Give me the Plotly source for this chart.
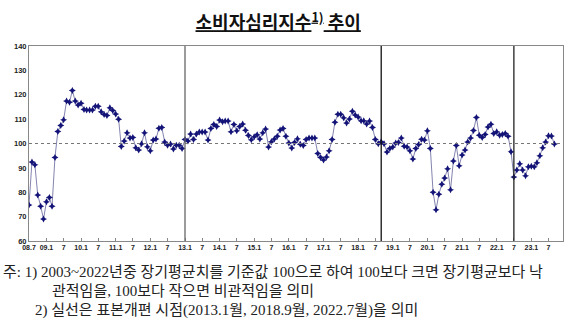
import pandas as pd
import plotly.graph_objects as go

# Consumer Sentiment Index, monthly from 2008.7
csi_2008_2013 = [74.8, 92.4, 91.3, 78.9, 74.3, 69.0, 76.1, 77.8, 74.3, 94.3, 104.9, 107.4, 109.7,
                 117.4, 116.9, 121.7, 117.4, 115.8, 116.5, 114.0, 113.7, 113.7, 113.7, 115.3, 115.3,
                 113.0, 111.9, 111.5, 114.7, 113.5, 112.1, 109.9, 98.8, 101.0, 104.4, 102.3, 102.5,
                 98.3, 97.3, 99.9, 104.4, 98.7, 97.0, 101.4, 101.8, 106.3, 106.6, 100.6, 99.3, 99.8,
                 97.7, 99.3, 99.3, 98.0, 101.6]
csi_2013_2018 = [101.0, 103.9, 101.6, 103.9, 104.7, 104.7, 104.7, 101.4, 106.2, 107.8, 107.0, 109.6,
                 108.9, 109.2, 109.2, 104.8, 107.8, 105.2, 107.0, 108.0, 105.4, 103.3, 101.5, 102.8,
                 103.6, 101.8, 104.4, 105.9, 98.6, 100.7, 101.8, 103.0, 105.5, 106.2, 103.0, 100.2,
                 98.2, 100.4, 101.9, 99.7, 99.2, 101.6, 102.3, 102.3, 102.3, 95.9, 94.3, 93.2, 94.5,
                 97.0, 101.6, 108.7, 112.0, 112.0, 110.6, 108.4, 110.1, 113.2, 111.7, 110.9, 109.3,
                 109.3, 108.0, 109.2, 106.6, 101.6, 99.9]
csi_2018_2023 = [100.7, 99.9, 96.5, 98.0, 98.6, 100.2, 100.4, 102.3, 98.9, 98.6, 97.0, 93.6, 98.0,
                 99.6, 101.7, 101.4, 105.2, 98.0, 80.0, 72.8, 79.2, 83.3, 85.8, 89.6, 81.0, 92.8,
                 99.2, 90.9, 95.3, 97.3, 100.6, 102.3, 105.3, 110.7, 103.4, 102.5, 103.7, 106.8,
                 107.9, 104.1, 104.8, 103.4, 103.7, 104.1, 103.0, 96.6, 86.3, 89.1, 91.7, 89.1, 86.8,
                 90.5, 90.7, 90.5, 92.1, 95.0, 98.3, 100.6, 103.2, 103.1, 99.8]
values = csi_2008_2013 + csi_2013_2018 + csi_2018_2023
months = pd.date_range("2008-07-01", periods=len(values), freq="MS")

tick_dates = pd.date_range("2008-07-01", "2023-07-01", freq="6MS")
tick_labels = ["08.7", "09.1", "7", "10.1", "7", "11.1", "7", "12.1", "7", "13.1", "7", "14.1", "7",
               "15.1", "7", "16.1", "7", "17.1", "7", "18.1", "7", "19.1", "7", "20.1", "7", "21.1",
               "7", "22.1", "7", "23.1", "7"]
y_ticks = [60, 70, 80, 90, 100, 110, 120, 130, 140]
sample_breaks = ["2013-01-01", "2018-09-01", "2022-07-01"]
break_colors = ["#666666", "#111111", "#222222"]
baseline = 100

fig = go.Figure()
fig.add_trace(go.Scatter(
    x=months, y=values, mode="lines+markers",
    line=dict(color="#8484b0", width=1),
    marker=dict(symbol="star-diamond", size=5, color="#141478"),
    showlegend=False, hoverinfo="x+y",
))

fig.add_hline(y=baseline, line=dict(color="#777777", width=1, dash="dot"))
for d, c in zip(sample_breaks, break_colors):
    fig.add_shape(type="line", xref="x", yref="paper", x0=d, x1=d, y0=0, y1=1,
                  line=dict(color=c, width=1.3))

fig.update_xaxes(
    range=["2008-07-01", "2023-12-01"],
    tickvals=tick_dates, ticktext=tick_labels,
    ticks="inside", ticklen=3, tickcolor="#888888",
    showline=True, linecolor="#888888", linewidth=1, mirror=True,
    showgrid=False, zeroline=False,
    tickfont=dict(family="Liberation Sans, Arial", size=7, color="#222222", weight="bold"),
)
fig.update_yaxes(
    range=[60, 140], tickvals=y_ticks,
    showline=True, linecolor="#888888", linewidth=1, mirror=True,
    showgrid=False, zeroline=False, ticks="",
    tickfont=dict(family="Liberation Sans, Arial", size=7.5, color="#222222", weight="bold"),
)

fig.update_layout(
    width=582, height=327,
    margin=dict(l=29, r=19, t=46, b=86),
    paper_bgcolor="white", plot_bgcolor="white",
    title=dict(text="<u>소비자심리지수<sup>1)</sup> 추이</u>", x=0.478, xanchor="center",
               y=0.93, yanchor="middle", yref="container",
               font=dict(family="Noto Sans CJK KR", size=18, color="#111111", weight="bold")),
)

note_font = dict(family="Liberation Serif, Noto Sans CJK KR", size=15, color="#222222")
notes = [
    ("주: 1) 2003~2022년중 장기평균치를 기준값 100으로 하여 100보다 크면 장기평균보다 낙", -0.052, -0.159),
    ("관적임을, 100보다 작으면 비관적임을 의미", 0.039, -0.256),
    ("2) 실선은 표본개편 시점(2013.1월, 2018.9월, 2022.7월)을 의미", 0.0075, -0.354),
]
for text, x, y in notes:
    fig.add_annotation(text=text, xref="paper", yref="paper", x=x, y=y,
                       xanchor="left", yanchor="middle", showarrow=False, font=note_font)

fig.write_html("out.html")
